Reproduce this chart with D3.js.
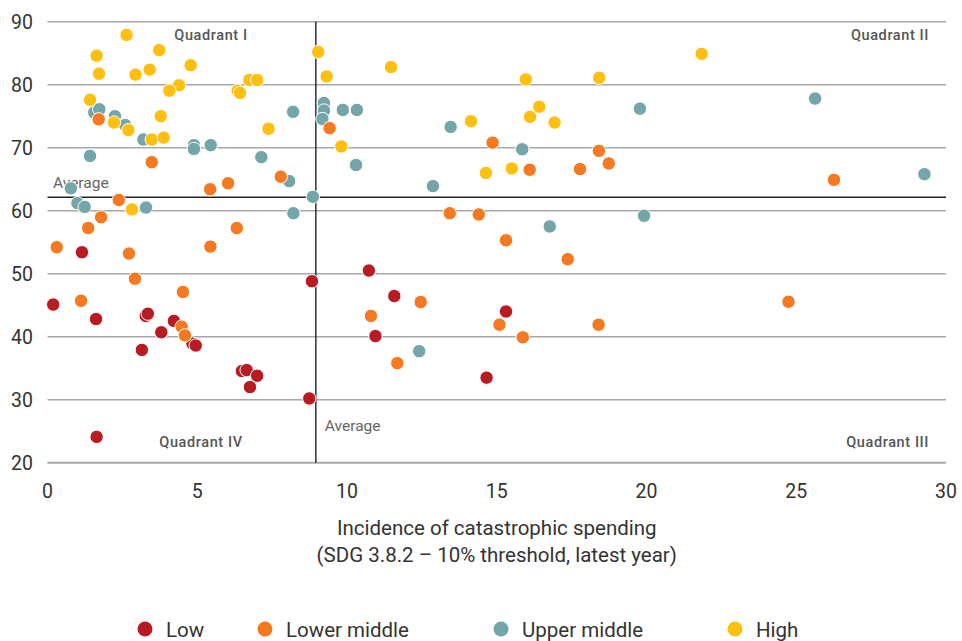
<!DOCTYPE html>
<html>
<head>
<meta charset="utf-8">
<script src="https://cdn.jsdelivr.net/npm/d3@7/dist/d3.min.js"></script>
<style>
  html, body { margin: 0; padding: 0; background: #fff; }
  svg { display: block; font-family: Roboto, "Noto Sans", sans-serif; }
</style>
</head>
<body>
<svg id="chart" width="962" height="641"></svg>
<script>
// ---- Data (x = incidence of catastrophic spending, y = UHC service coverage) ----
const groups = ["Low", "Lower middle", "Upper middle", "High"];
const groupColors = ["#b81c22", "#f47920", "#74a5a9", "#fdc010"];

const lowPoints = [
  [1.15, 53.4], [0.19, 45.1], [1.62, 42.8], [3.28, 43.3], [3.35, 43.65], [4.22, 42.5],
  [3.80, 40.7], [3.15, 37.9], [4.84, 38.9], [4.95, 38.6], [6.49, 34.55], [6.65, 34.7],
  [7.00, 33.8], [6.76, 32.0], [8.74, 30.2], [8.83, 48.8], [1.64, 24.1], [10.73, 50.5],
  [11.58, 46.45], [10.95, 40.1], [15.31, 44.0], [14.66, 33.5]
];
const lowerMiddlePoints = [
  [1.71, 74.5], [3.48, 67.7], [5.43, 63.4], [6.03, 64.35], [7.79, 65.4], [2.38, 61.7],
  [1.36, 57.25], [1.79, 58.95], [6.32, 57.25], [0.31, 54.2], [5.44, 54.3], [2.72, 53.2],
  [2.92, 49.2], [1.12, 45.7], [4.52, 47.1], [4.48, 41.6], [4.59, 40.2], [9.42, 73.1],
  [13.43, 59.6], [14.40, 59.4], [14.86, 70.8], [16.10, 66.5], [15.31, 55.3], [17.78, 66.6],
  [18.41, 69.5], [18.74, 67.5], [17.37, 52.3], [10.80, 43.3], [12.46, 45.5], [15.09, 41.9],
  [15.87, 39.9], [18.40, 41.9], [11.68, 35.8], [26.26, 64.9], [24.74, 45.55]
];
const upperMiddlePoints = [
  [1.56, 75.6], [1.73, 76.1], [2.25, 75.0], [2.59, 73.6], [3.20, 71.3], [1.42, 68.7],
  [4.89, 70.4], [4.89, 69.8], [5.45, 70.4], [7.14, 68.5], [8.20, 75.7], [8.07, 64.7],
  [8.21, 59.6], [8.86, 62.2], [0.78, 63.55], [1.00, 61.2], [1.24, 60.6], [3.29, 60.5],
  [9.23, 77.1], [9.23, 75.9], [9.18, 74.55], [9.86, 76.0], [10.33, 76.0], [10.30, 67.25],
  [12.87, 63.9], [13.46, 73.3], [15.85, 69.75], [16.77, 57.5], [12.41, 37.7],
  [19.78, 76.2], [25.63, 77.8], [29.28, 65.8], [19.92, 59.2]
];
const highPoints = [
  [2.64, 87.9], [1.64, 84.6], [1.72, 81.75], [3.73, 85.5], [2.94, 81.6], [3.41, 82.4],
  [4.78, 83.1], [4.39, 79.9], [4.07, 79.05], [1.42, 77.6], [2.22, 74.0], [2.70, 72.8],
  [3.78, 75.0], [3.48, 71.3], [3.88, 71.6], [6.35, 79.05], [6.43, 78.7], [6.74, 80.75],
  [7.00, 80.75], [7.38, 73.0], [2.82, 60.2], [9.04, 85.2], [9.32, 81.3], [11.47, 82.8],
  [9.81, 70.2], [14.14, 74.2], [14.64, 66.0], [15.50, 66.7], [15.97, 80.85], [16.11, 74.9],
  [16.42, 76.5], [16.93, 74.0], [18.42, 81.1], [21.84, 84.9]
];

const xTicks = [0, 5, 10, 15, 20, 25, 30];
const yTicks = [20, 30, 40, 50, 60, 70, 80, 90];
const averageX = 8.96;
const averageY = 62.13;
const xTitle = ["Incidence of catastrophic spending", "(SDG 3.8.2 \u2013 10% threshold, latest year)"];
const quadrantLabels = ["Quadrant I", "Quadrant II", "Quadrant III", "Quadrant IV"];

// ---- Layout ----
const svg = d3.select("#chart");
const plotL = 47.5, plotR = 946, plotT = 21.7, plotB = 462.7;
const x = d3.scaleLinear().domain([0, 30]).range([plotL, plotR]);
const y = d3.scaleLinear().domain([20, 90]).range([plotB, plotT]);

// gridlines
svg.append("g").selectAll("line").data(yTicks).join("line")
  .attr("x1", plotL).attr("x2", plotR)
  .attr("y1", d => y(d)).attr("y2", d => y(d))
  .attr("stroke", "#a8a8a8").attr("stroke-width", d => d === 20 ? 2 : 1.5);

// y tick labels
svg.append("g").selectAll("text").data(yTicks).join("text")
  .attr("x", 33).attr("y", d => y(d) + 7)
  .attr("text-anchor", "end")
  .attr("font-size", 19.5).attr("fill", "#333")
  .text(d => d);

// x tick labels
svg.append("g").selectAll("text").data(xTicks).join("text")
  .attr("x", d => x(d)).attr("y", 498)
  .attr("text-anchor", "middle")
  .attr("font-size", 19.5).attr("fill", "#333")
  .text(d => d);

// x axis title
svg.append("g").selectAll("text").data(xTitle).join("text")
  .attr("x", (plotL + plotR) / 2).attr("y", (d, i) => 535 + i * 27)
  .attr("text-anchor", "middle")
  .attr("font-size", 20.5).attr("fill", "#333")
  .text(d => d);

// average lines
svg.append("line")
  .attr("x1", plotL).attr("x2", plotR)
  .attr("y1", y(averageY)).attr("y2", y(averageY))
  .attr("stroke", "#222").attr("stroke-width", 1.4);
svg.append("line")
  .attr("x1", x(averageX)).attr("x2", x(averageX))
  .attr("y1", plotT).attr("y2", plotB)
  .attr("stroke", "#222").attr("stroke-width", 1.4);

svg.append("text").attr("x", 53).attr("y", y(averageY) - 9)
  .attr("font-size", 15.5).attr("fill", "#666").text("Average");
svg.append("text").attr("x", x(averageX) + 9).attr("y", 431)
  .attr("font-size", 15.5).attr("fill", "#666").text("Average");

// quadrant labels
const qPos = [
  {x: 211, y: 40, anchor: "middle"},
  {x: 929, y: 40, anchor: "end"},
  {x: 929, y: 447, anchor: "end"},
  {x: 201, y: 447, anchor: "middle"}
];
svg.append("g").selectAll("text").data(quadrantLabels).join("text")
  .attr("x", (d, i) => qPos[i].x).attr("y", (d, i) => qPos[i].y)
  .attr("text-anchor", (d, i) => qPos[i].anchor)
  .attr("font-size", 14.5).attr("font-weight", 500).attr("fill", "#555")
  .attr("letter-spacing", 0.6)
  .text(d => d);

// points
const series = [
  {name: "Upper middle", pts: upperMiddlePoints},
  {name: "Low", pts: lowPoints},
  {name: "Lower middle", pts: lowerMiddlePoints},
  {name: "High", pts: highPoints}
];
const color = d3.scaleOrdinal().domain(groups).range(groupColors);
series.forEach(s => {
  svg.append("g").selectAll("circle").data(s.pts).join("circle")
    .attr("cx", d => x(d[0])).attr("cy", d => y(d[1]))
    .attr("r", 6.7)
    .attr("fill", color(s.name))
    .attr("stroke", "#fff").attr("stroke-width", 1);
});

// legend
const legendX = [145, 265, 501, 735];
const lg = svg.append("g").selectAll("g").data(groups).join("g")
  .attr("transform", (d, i) => `translate(${legendX[i]},629)`);
lg.append("circle").attr("r", 7.5).attr("fill", d => color(d));
lg.append("text").attr("x", 21).attr("y", 7.5)
  .attr("font-size", 20.5).attr("fill", "#333").text(d => d);
</script>
</body>
</html>
